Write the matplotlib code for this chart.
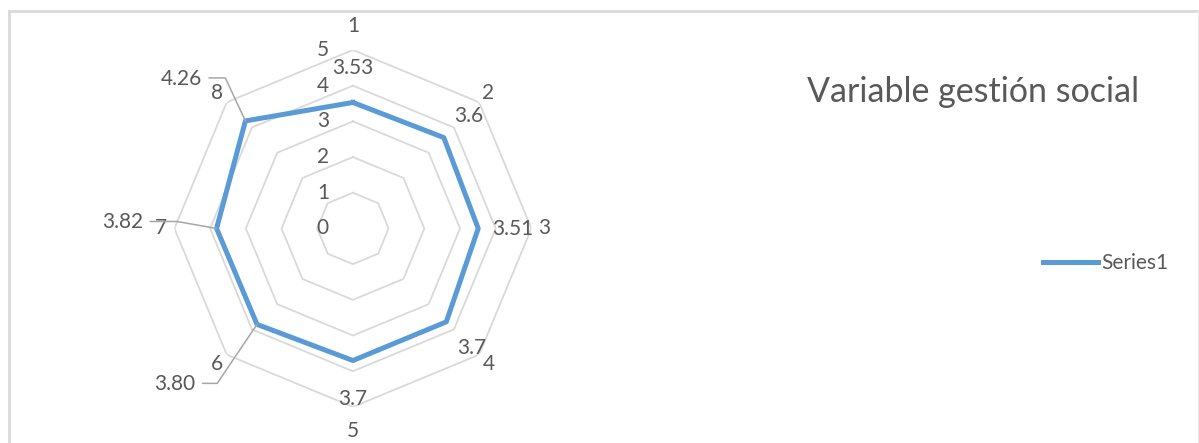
import numpy as np
import matplotlib.pyplot as plt
from matplotlib.lines import Line2D

# Variable gestion social - radar chart

categories = ['1', '2', '3', '4', '5', '6', '7', '8']
values = [3.53, 3.6, 3.51, 3.7, 3.7, 3.80, 3.82, 4.26]
value_labels = ['3.53', '3.6', '3.51', '3.7', '3.7', '3.80', '3.82', '4.26']
r_ticks = [0, 1, 2, 3, 4, 5]
series_name = 'Series1'
title = 'Variable gestión social'

text_col = '#595959'
grid_col = '#D9D9D9'
line_col = '#5B9BD5'
lead_col = '#A6A6A6'
fnt = 'Lato'
fs = 15

fig = plt.figure(figsize=(11.99, 4.43), dpi=100)
ax = fig.add_axes([0.1455, 0.0813, 0.2977, 0.806], projection='polar')
ax.set_theta_zero_location('N')
ax.set_theta_direction(-1)
ax.set_ylim(0, 5)
ax.set_axis_off()

n = len(categories)
theta = np.arange(n) * 2 * np.pi / n
theta_c = np.append(theta, theta[0])

# octagon grid
for r in r_ticks[1:]:
    ax.plot(theta_c, [r] * (n + 1), color=grid_col, lw=1.3, zorder=1)

vals_c = values + values[:1]
line, = ax.plot(theta_c, vals_c, color=line_col, lw=3.6, solid_joinstyle='round',
                zorder=3, label=series_name)

# radial tick labels
for r in r_ticks:
    ax.annotate(str(r), (0, r), xytext=(-24, 0), textcoords='offset pixels',
                ha='right', va='center', fontsize=fs, color=text_col, family=fnt)

# category labels
for th, c in zip(theta, categories):
    rr = 5.37 + 0.62 * max(np.cos(th) ** 2 - 0.5, 0)
    ax.text(th, rr, c, ha='center', va='center', fontsize=fs, color=text_col, family=fnt)

# data labels (offsets in pixels)
offsets = [(0, 34), (25, 22), (35, -1), (25, -26), (0, -38), (-82, -60), (-94, 6), (-64, 42)]
leaders = {5: 56, 6: -10, 7: -65}
for i, (th, v, lab) in enumerate(zip(theta, values, value_labels)):
    if i in leaders:
        ax.annotate(lab, (th, v), xytext=offsets[i], textcoords='offset pixels',
                    ha='center', va='center', fontsize=fs, color=text_col, family=fnt,
                    arrowprops=dict(arrowstyle='-', color=lead_col, lw=1.1,
                                    shrinkA=3, shrinkB=0, relpos=(1.0, 0.55),
                                    connectionstyle='angle,angleA=0,angleB=%d,rad=0' % leaders[i]))
    else:
        ax.annotate(lab, (th, v), xytext=offsets[i], textcoords='offset pixels',
                    ha='center', va='center', fontsize=fs, color=text_col, family=fnt)

fig.text(973 / 1199, 1 - 92 / 443, title, ha='center', va='center', fontsize=24.5,
         color=text_col, family=fnt)

leg = fig.legend(handles=[line], loc='center left', bbox_to_anchor=(1043 / 1199, 1 - 263 / 443),
                 frameon=False, handlelength=2.65, handletextpad=0.15, borderpad=0,
                 borderaxespad=0, prop={'family': fnt, 'size': fs})
for t in leg.get_texts():
    t.set_color(text_col)

# chart frame
fig.add_artist(Line2D([9 / 1199, 9 / 1199], [0, 1 - 11 / 443], color=grid_col, lw=2))
fig.add_artist(Line2D([9 / 1199, 1197.5 / 1199], [1 - 11 / 443, 1 - 11 / 443], color=grid_col, lw=2))
fig.add_artist(Line2D([1197.5 / 1199, 1197.5 / 1199], [0, 1 - 11 / 443], color='#EBEBEB', lw=1))

fig.savefig('out.png', dpi=100)
